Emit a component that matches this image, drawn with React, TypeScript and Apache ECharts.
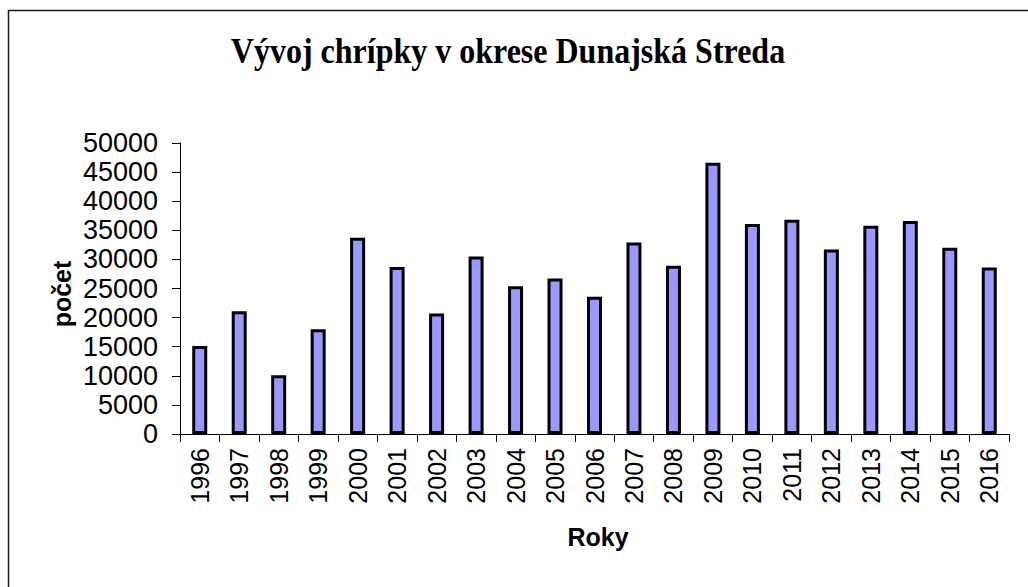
import React, { useEffect, useRef } from "react";
import * as echarts from "echarts";

const years = ["1996","1997","1998","1999","2000","2001","2002","2003","2004","2005","2006","2007","2008","2009","2010","2011","2012","2013","2014","2015","2016"];
const counts = [15100,21100,10100,18000,33700,28700,20700,30500,25400,26700,23600,32900,28900,46600,36100,36800,31700,35800,36600,32000,28600];
const chartTitle = "Vývoj chrípky v okrese Dunajská Streda";
const yTitle = "počet";
const xTitle = "Roky";

export default function App() {
  const ref = useRef<HTMLDivElement>(null);
  useEffect(() => {
    if (!ref.current) return;
    const chart = echarts.init(ref.current, undefined, { renderer: "svg" });
    chart.setOption({
      animation: false,
      backgroundColor: "#ffffff",
      graphic: [
        {
          type: "rect",
          shape: { x: 8.5, y: 10.5, width: 1040, height: 600 },
          style: { fill: "none", stroke: "#1a1a1a", lineWidth: 1.5 },
          silent: true,
        },
        {
          type: "text",
          x: 508,
          y: 51,
          scaleY: 1.12,
          style: {
            text: chartTitle,
            fontFamily: "Liberation Serif",
            fontWeight: "bold",
            fontSize: 32,
            fill: "#000",
            textAlign: "center",
            textVerticalAlign: "middle",
          },
        },
        {
          type: "text",
          x: 598,
          y: 537,
          style: {
            text: xTitle,
            fontFamily: "Liberation Sans",
            fontWeight: "bold",
            fontSize: 25,
            fill: "#000",
            textAlign: "center",
            textVerticalAlign: "middle",
          },
        },
        {
          type: "text",
          x: 62,
          y: 294,
          rotation: Math.PI / 2,
          style: {
            text: yTitle,
            fontFamily: "Liberation Sans",
            fontWeight: "bold",
            fontSize: 25,
            fill: "#000",
            textAlign: "center",
            textVerticalAlign: "middle",
          },
        },
      ],
      grid: { left: 180, right: 19, top: 143, bottom: 153, containLabel: false },
      xAxis: {
        type: "category",
        data: years,
        boundaryGap: true,
        axisLine: { show: true, lineStyle: { color: "#000", width: 1 } },
        axisTick: { show: true, length: 8, alignWithLabel: false, lineStyle: { color: "#000", width: 1 } },
        axisLabel: {
          interval: 0,
          rotate: 90,
          margin: 14,
          fontFamily: "Liberation Sans",
          fontSize: 25,
          color: "#000",
        },
        splitLine: { show: false },
      },
      yAxis: {
        type: "value",
        min: 0,
        max: 50000,
        interval: 5000,
        axisLine: { show: true, lineStyle: { color: "#000", width: 1 } },
        axisTick: { show: true, length: 8, lineStyle: { color: "#000", width: 1 } },
        axisLabel: {
          margin: 22,
          fontFamily: "Liberation Sans",
          fontSize: 27,
          color: "#000",
          formatter: (v: number) => String(v),
        },
        splitLine: { show: false },
      },
      series: [
        {
          type: "bar",
          data: counts,
          barWidth: 15,
          itemStyle: { color: "#9999ff", borderColor: "#000", borderWidth: 3 },
        },
      ],
    });
    return () => chart.dispose();
  }, []);
  return <div ref={ref} style={{ position: "fixed", left: 0, top: 0, width: 1028, height: 587 }} />;
}
